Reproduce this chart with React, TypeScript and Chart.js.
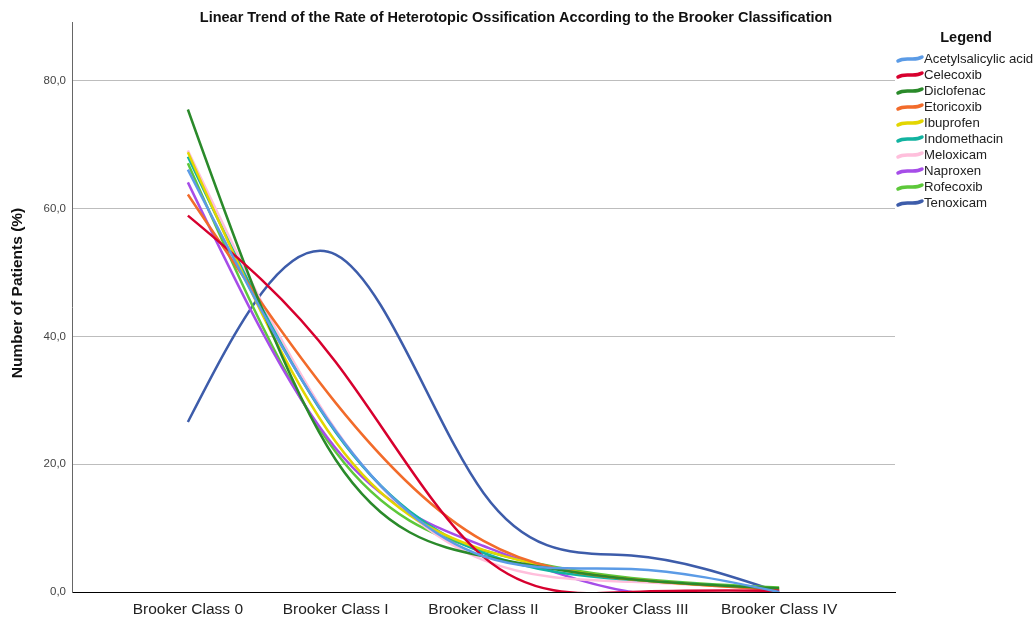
import React, { useEffect, useRef } from "react";
import { Chart, registerables } from "chart.js";

Chart.register(...registerables);

const categories = ["Brooker Class 0", "Brooker Class I", "Brooker Class II", "Brooker Class III", "Brooker Class IV"];
const yTicks = [0, 20, 40, 60, 80];

const drugNames = ["Acetylsalicylic acid", "Celecoxib", "Diclofenac", "Etoricoxib", "Ibuprofen", "Indomethacin", "Meloxicam", "Naproxen", "Rofecoxib", "Tenoxicam"];
const drugColors = ["#5b9be6", "#d7002e", "#2a8a2a", "#f26b2a", "#e3d600", "#12b3a0", "#ffbfdc", "#a64de8", "#5dc83a", "#3d5caa"];

const acetylsalicylic = [66.1, 25.2, 5.6, 3.6, 0];
const celecoxib = [58.9, 36.0, 5.5, 0, 0.2];
const diclofenac = [75.5, 20.7, 5.6, 2.0, 0.6];
const etoricoxib = [62.2, 29.6, 8.0, 2.0, 0.3];
const ibuprofen = [68.8, 23.5, 6.6, 2.0, 0.5];
const indomethacin = [68.1, 25.0, 6.1, 1.9, 0.4];
const meloxicam = [69.1, 25.4, 5.0, 1.6, 0.3];
const naproxen = [64.1, 22.5, 7.2, 0, 0];
const rofecoxib = [67.1, 21.9, 6.5, 2.2, 0.7];
const tenoxicam = [26.6, 52.8, 15.5, 5.7, 0];

const seriesValues = [acetylsalicylic, celecoxib, diclofenac, etoricoxib, ibuprofen, indomethacin, meloxicam, naproxen, rofecoxib, tenoxicam];

const FONT = "'Liberation Sans', Arial, sans-serif";

// Natural cubic spline control points, computed on the library's pixel positions of the data points
function applyNaturalSpline(points: any[]) {
  const n = points.length;
  if (n < 3) return;
  const x = points.map((p) => p.x);
  const y = points.map((p) => p.y);
  const h: number[] = [];
  for (let i = 0; i < n - 1; i++) h.push(x[i + 1] - x[i]);
  const M = new Array(n).fill(0);
  const a: number[] = [], b: number[] = [], c: number[] = [], d: number[] = [];
  for (let i = 1; i < n - 1; i++) {
    a.push(h[i - 1]);
    b.push(2 * (h[i - 1] + h[i]));
    c.push(h[i]);
    d.push(6 * ((y[i + 1] - y[i]) / h[i] - (y[i] - y[i - 1]) / h[i - 1]));
  }
  const m = b.length;
  for (let i = 1; i < m; i++) {
    const w = a[i] / b[i - 1];
    b[i] -= w * c[i - 1];
    d[i] -= w * d[i - 1];
  }
  const sol = new Array(m).fill(0);
  sol[m - 1] = d[m - 1] / b[m - 1];
  for (let i = m - 2; i >= 0; i--) sol[i] = (d[i] - c[i] * sol[i + 1]) / b[i];
  for (let i = 0; i < m; i++) M[i + 1] = sol[i];
  for (let i = 0; i < n; i++) {
    let s: number;
    if (i < n - 1) s = (y[i + 1] - y[i]) / h[i] - (h[i] * (2 * M[i] + M[i + 1])) / 6;
    else s = (y[i] - y[i - 1]) / h[i - 1] + (h[i - 1] * (M[i - 1] + 2 * M[i])) / 6;
    const hp = i > 0 ? h[i - 1] : h[0];
    const hn = i < n - 1 ? h[i] : h[n - 2];
    points[i].cp1x = x[i] - hp / 3;
    points[i].cp1y = y[i] - (s * hp) / 3;
    points[i].cp2x = x[i] + hn / 3;
    points[i].cp2y = y[i] + (s * hn) / 3;
  }
}

const splinePlugin = {
  id: "naturalSpline",
  beforeDatasetDraw(chart: any, args: any) {
    const meta = args.meta;
    if (!meta.dataset) return;
    meta.dataset.updateControlPoints(chart.chartArea);
    applyNaturalSpline(meta.data);
    meta.dataset._pointsUpdated = true;
    delete meta.dataset._path;
  },
};

const textPlugin = {
  id: "texts",
  afterDraw(chart: any) {
    const ctx = chart.ctx;
    ctx.save();
    ctx.fillStyle = "#111";
    ctx.font = `bold 14.5px ${FONT}`;
    ctx.textAlign = "center";
    ctx.textBaseline = "middle";
    ctx.fillText("Linear Trend of the Rate of Heterotopic Ossification According to the Brooker Classification", 516, 18);
    ctx.save();
    ctx.translate(18, 293);
    ctx.rotate(-Math.PI / 2);
    ctx.font = `bold 15.5px ${FONT}`;
    ctx.fillText("Number of Patients (%)", 0, 0);
    ctx.restore();
    ctx.font = `bold 14.5px ${FONT}`;
    ctx.textAlign = "center";
    ctx.fillText("Legend", 966, 38);
    ctx.font = `13.2px ${FONT}`;
    ctx.textAlign = "left";
    chart.data.datasets.forEach((ds: any, i: number) => {
      const y = 59 + i * 16;
      ctx.strokeStyle = ds.borderColor;
      ctx.lineWidth = 3.5;
      ctx.lineCap = "round";
      ctx.beginPath();
      ctx.moveTo(898, y + 2);
      ctx.bezierCurveTo(906, y - 3, 914, y + 3, 922, y - 2);
      ctx.stroke();
      ctx.fillStyle = "#222";
      ctx.fillText(ds.label, 924, y);
    });
    ctx.restore();
  },
};

export default function App() {
  const ref = useRef<HTMLCanvasElement>(null);
  useEffect(() => {
    if (!ref.current) return;
    const chart = new Chart(ref.current, {
      type: "line",
      data: {
        datasets: drugNames.map((name, i) => ({
          label: name,
          data: seriesValues[i].map((v, j) => ({ x: j, y: v })),
          borderColor: drugColors[i],
          backgroundColor: drugColors[i],
          borderWidth: 2.5,
          pointRadius: 0,
          tension: 0.4,
          fill: false,
        })),
      },
      options: {
        animation: false,
        responsive: false,
        maintainAspectRatio: false,
        layout: { padding: { left: 0, top: 22, right: 140, bottom: 0 } },
        plugins: { legend: { display: false }, title: { display: false }, tooltip: { enabled: false } },
        scales: {
          x: {
            type: "linear",
            min: -0.784,
            max: 4.784,
            afterBuildTicks: (scale: any) => {
              scale.ticks = categories.map((_, i) => ({ value: i }));
            },
            afterFit: (scale: any) => {
              scale.height = 30;
            },
            grid: { display: false, drawTicks: false },
            border: { color: "#000", width: 1 },
            ticks: {
              autoSkip: false,
              maxRotation: 0,
              padding: 8,
              color: "#222",
              font: { family: FONT, size: 15.5 },
              callback: (v: any) => categories[v] ?? "",
            },
          },
          y: {
            min: 0,
            max: 89.2,
            afterBuildTicks: (scale: any) => {
              scale.ticks = yTicks.map((v) => ({ value: v }));
            },
            afterFit: (scale: any) => {
              scale.width = 72;
            },
            grid: { color: "#bdbdbd", lineWidth: 1, drawTicks: false },
            border: { color: "#666", width: 1 },
            ticks: {
              padding: 6,
              color: "#444",
              font: { family: FONT, size: 11.5 },
              callback: (v: any) => Number(v).toFixed(1).replace(".", ","),
            },
          },
        },
      },
      plugins: [splinePlugin, textPlugin],
    } as any);
    return () => chart.destroy();
  }, []);
  return (
    <div style={{ position: "fixed", left: 0, top: 0, width: 1035, height: 622, background: "#fff" }}>
      <canvas ref={ref} width={1035} height={622} style={{ width: 1035, height: 622 }} />
    </div>
  );
}
